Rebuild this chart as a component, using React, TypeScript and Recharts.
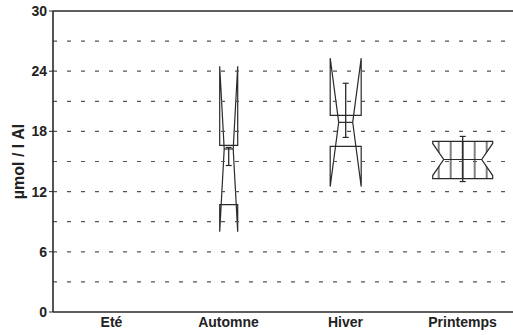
import {
    ComposedChart,
    Bar,
    XAxis,
    YAxis,
    ReferenceLine,
} from "recharts";

const seasons = ["Eté", "Automne", "Hiver", "Printemps"];
const notchLow = [null, 8.0, 12.5, 13.6];
const q1 = [null, 10.7, 16.5, 13.3];
const median = [null, 16.25, 18.9, 15.2];
const q3 = [null, 16.6, 19.6, 17.0];
const notchHigh = [null, 24.5, 25.3, 16.8];
const whiskerLow = [null, 14.6, 17.4, 13.0];
const whiskerHigh = [null, 16.4, 22.8, 17.5];

const yTicks = [0, 6, 12, 18, 24, 30];
const gridValues = [3, 6, 9, 12, 15, 18, 21, 24, 27];

// drawing style per box (pixels)
const boxWidths = [0, 18, 31, 60];
const notchInsets = [0, 4.5, 8.5, 11];
const hatchedSeasons = ["Printemps"];

const INK = "#2a2a2a";
const FONT = "'Liberation Sans', Arial, sans-serif";

const data = seasons.map((season, i) => {
    const vals = [notchLow[i], q1[i], median[i], q3[i], notchHigh[i], whiskerLow[i], whiskerHigh[i]];
    const hasBox = vals.every((v) => v != null);
    return {
        season,
        index: i,
        range: hasBox ? [Math.min(...(vals as number[])), Math.max(...(vals as number[]))] : null,
    };
});

function NotchedBox(props: any) {
    const { x, y, width, height, payload } = props;
    const i = payload.index;
    if (!payload.range) return null;
    const [lo, hi] = payload.range;
    const top = Math.min(y, y + height);
    const bottom = Math.max(y, y + height);
    const py = (v: number) => bottom - ((v - lo) / (hi - lo)) * (bottom - top);

    const cx = x + width / 2;
    const w = boxWidths[i];
    const L = cx - w / 2;
    const R = cx + w / 2;
    const ins = notchInsets[i];

    const pts = [
        [L, py(q1[i] as number)],
        [L, py(notchLow[i] as number)],
        [L + ins, py(median[i] as number)],
        [L, py(notchHigh[i] as number)],
        [L, py(q3[i] as number)],
        [R, py(q3[i] as number)],
        [R, py(notchHigh[i] as number)],
        [R - ins, py(median[i] as number)],
        [R, py(notchLow[i] as number)],
        [R, py(q1[i] as number)],
    ];
    const poly = pts.map((p) => p.join(",")).join(" ");
    const hatched = hatchedSeasons.includes(payload.season);
    const pid = `hatch-${i}`;
    const cap = 3;

    return (
        <g>
            {hatched && (
                <defs>
                    <pattern id={pid} patternUnits="userSpaceOnUse" width={12} height={10} x={cx - 1} y={0}>
                        <line x1={1} y1={0} x2={1} y2={10} stroke={INK} strokeWidth={1.2} />
                    </pattern>
                </defs>
            )}
            <polygon
                points={poly}
                fill={hatched ? `url(#${pid})` : "none"}
                stroke={INK}
                strokeWidth={1.2}
                strokeLinejoin="miter"
            />
            <line
                x1={L + ins}
                x2={R - ins}
                y1={py(median[i] as number)}
                y2={py(median[i] as number)}
                stroke={INK}
                strokeWidth={1.2}
            />
            <line
                x1={cx}
                x2={cx}
                y1={py(whiskerLow[i] as number)}
                y2={py(whiskerHigh[i] as number)}
                stroke={INK}
                strokeWidth={1.3}
            />
            <line
                x1={cx - cap}
                x2={cx + cap}
                y1={py(whiskerHigh[i] as number)}
                y2={py(whiskerHigh[i] as number)}
                stroke={INK}
                strokeWidth={1.2}
            />
            <line
                x1={cx - cap}
                x2={cx + cap}
                y1={py(whiskerLow[i] as number)}
                y2={py(whiskerLow[i] as number)}
                stroke={INK}
                strokeWidth={1.2}
            />
        </g>
    );
}

export default function App() {
    return (
        <div
            style={{
                position: "fixed",
                left: 0,
                top: 0,
                width: 513,
                height: 335,
                overflow: "hidden",
                background: "#ffffff",
            }}
        >
            <ComposedChart
                width={521}
                height={335}
                data={data}
                margin={{ top: 11, right: 0, left: 0, bottom: 0 }}
            >
                {gridValues.map((v) => (
                    <ReferenceLine
                        key={v}
                        y={v}
                        stroke="#555"
                        strokeWidth={1.2}
                        strokeDasharray="4 10"
                    />
                ))}
                <ReferenceLine y={30} stroke={INK} strokeWidth={1.6} />
                <XAxis
                    dataKey="season"
                    height={23}
                    tickLine={false}
                    axisLine={{ stroke: INK, strokeWidth: 1.6 }}
                    interval={0}
                    tick={{ fill: "#222", fontSize: 14, fontWeight: 700, fontFamily: FONT, dy: -3 }}
                    tickMargin={2}
                />
                <YAxis
                    type="number"
                    domain={[0, 30]}
                    ticks={yTicks}
                    interval={0}
                    width={53}
                    tickSize={4}
                    tickMargin={2}
                    tickLine={{ stroke: INK }}
                    axisLine={{ stroke: INK, strokeWidth: 1.6 }}
                    tick={{ fill: "#222", fontSize: 14, fontWeight: 700, fontFamily: FONT }}
                    label={{
                        content: (p: any) => {
                            const vb = p.viewBox;
                            const cy = vb.y + vb.height / 2;
                            return (
                                <text
                                    x={18}
                                    y={cy}
                                    transform={`rotate(-90, 18, ${cy})`}
                                    textAnchor="middle"
                                    dominantBaseline="central"
                                    fill="#222"
                                    fontSize={16}
                                    fontWeight={700}
                                    fontFamily={FONT}
                                >
                                    µmol / l Al
                                </text>
                            );
                        },
                    }}
                />
                <Bar
                    dataKey="range"
                    shape={<NotchedBox />}
                    isAnimationActive={false}
                />
            </ComposedChart>
        </div>
    );
}
